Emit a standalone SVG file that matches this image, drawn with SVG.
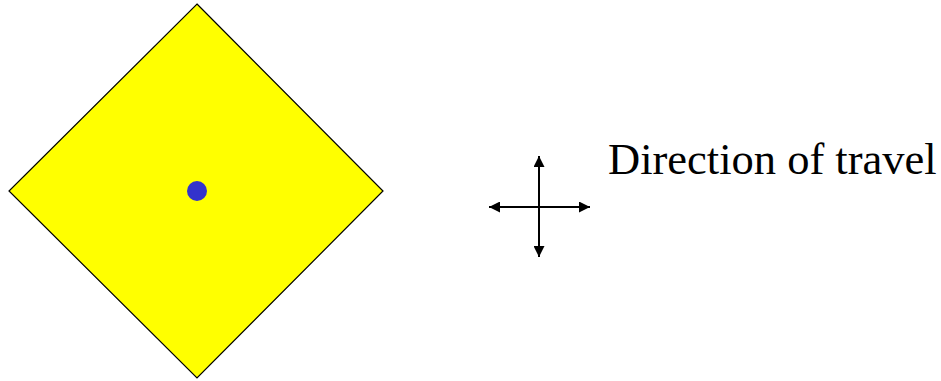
<svg xmlns="http://www.w3.org/2000/svg" width="941" height="381" viewBox="0 0 941 381">
<style>
.ln{stroke:#000;stroke-width:2;fill:none}
.lbl{font-family:"Liberation Serif","Times New Roman",serif;font-size:44.5px;fill:#000}
</style>
<defs>
<marker id="ah" viewBox="0 0 10 10" refX="10" refY="5" markerWidth="5.5" markerHeight="5.5" markerUnits="strokeWidth" orient="auto">
<path d="M0,0 L10,5 L0,10 Z" fill="#000"/>
</marker>
</defs>
<rect width="941" height="381" fill="#fff"/>
<g id="diamond">
<polygon points="197,4 383,191 197,378 9,191" fill="#ffff00" stroke="#000" stroke-width="1.2"/>
<circle cx="197" cy="191" r="10" fill="#3333cc"/>
</g>
<g id="connectors">
<line class="ln" x1="539" y1="207" x2="539" y2="156" marker-end="url(#ah)"/>
<line class="ln" x1="539" y1="207" x2="539" y2="257" marker-end="url(#ah)"/>
<line class="ln" x1="539" y1="207" x2="489" y2="207" marker-end="url(#ah)"/>
<line class="ln" x1="539" y1="207" x2="590" y2="207" marker-end="url(#ah)"/>
</g>
<g id="label">
<text class="lbl" x="608" y="174">Direction of travel</text>
</g>
</svg>
